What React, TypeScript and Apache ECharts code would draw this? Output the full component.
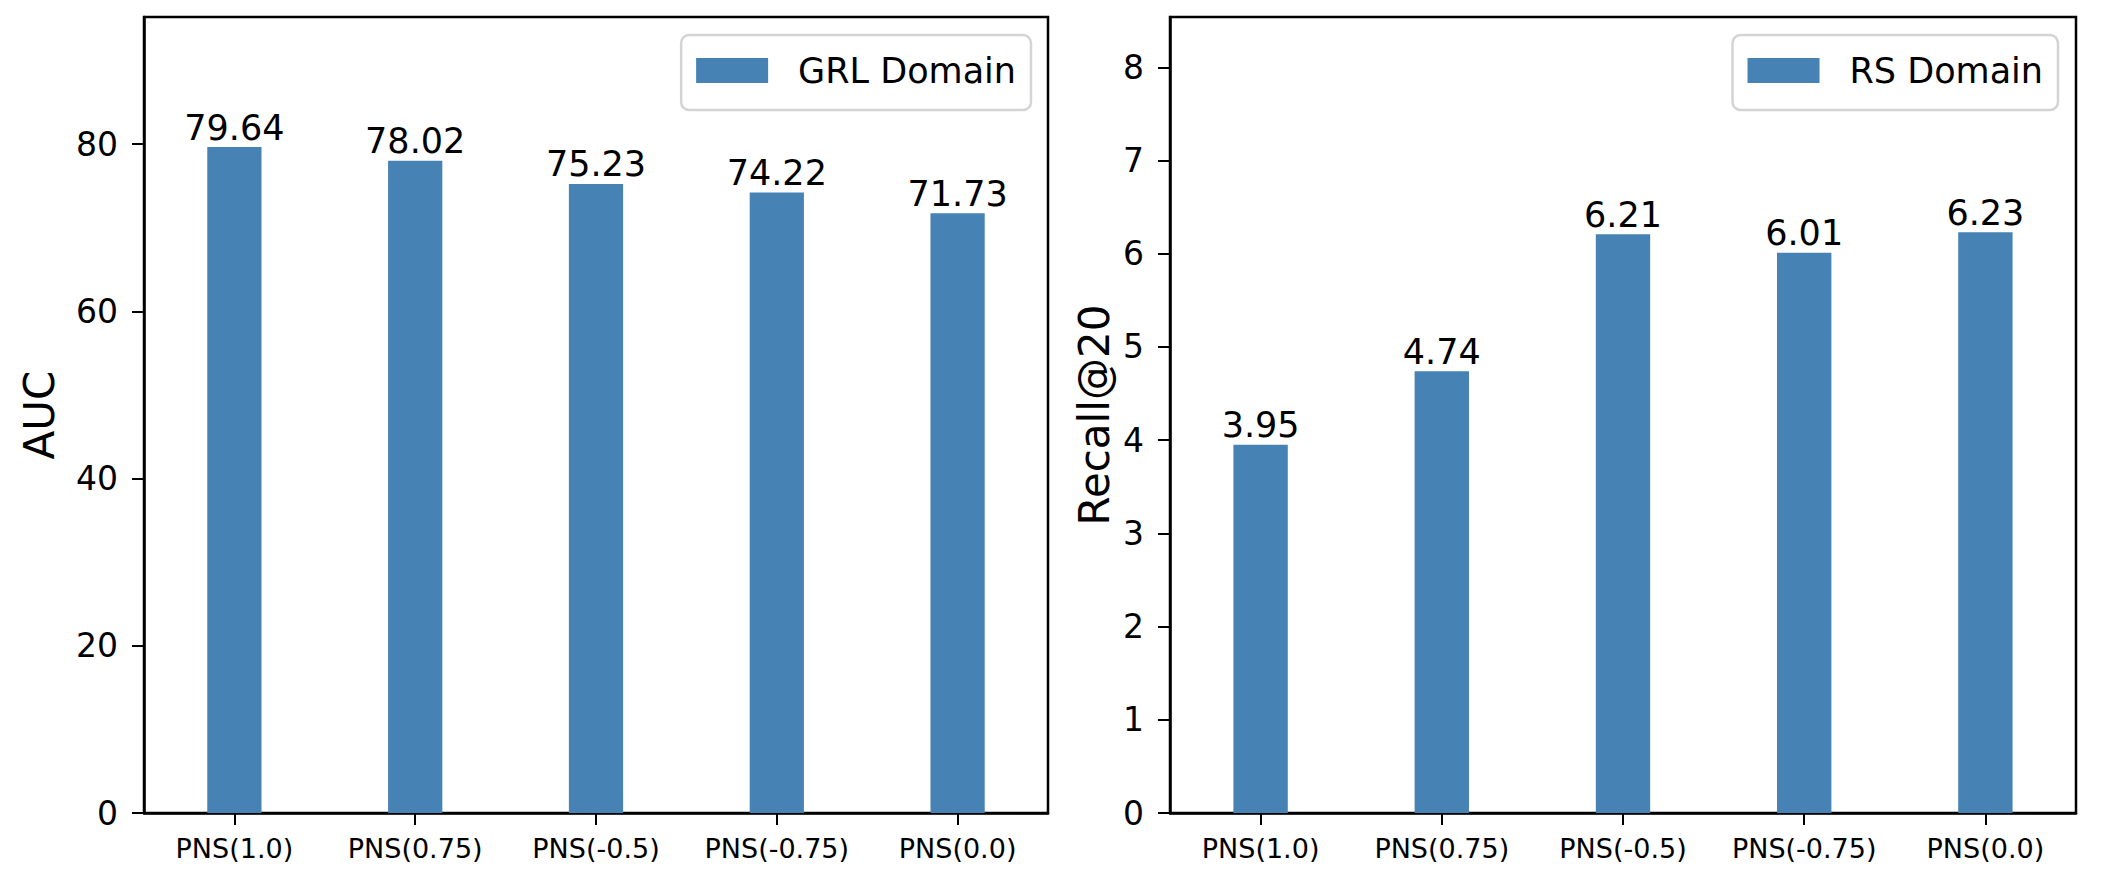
import React, { useEffect, useRef } from "react";
import * as echarts from "echarts";

const categories = ["PNS(1.0)", "PNS(0.75)", "PNS(-0.5)", "PNS(-0.75)", "PNS(0.0)"];
const grlValues = [79.64, 78.02, 75.23, 74.22, 71.73];
const rsValues = [3.95, 4.74, 6.21, 6.01, 6.23];
const grlTicks = [0, 20, 40, 60, 80];
const rsTicks = [0, 1, 2, 3, 4, 5, 6, 7, 8];

const FONT = "DejaVu Sans";
const BAR = "#4682B4";

function makeXAxis(gridIndex: number) {
  return {
    type: "category",
    gridIndex,
    data: categories,
    boundaryGap: true,
    axisLine: { show: true, lineStyle: { color: "#000", width: 2.5 } },
    axisTick: { show: true, alignWithLabel: true, interval: 0, length: 12, lineStyle: { color: "#000", width: 2 } },
    axisLabel: { color: "#000", fontSize: 27, fontFamily: FONT, margin: 22, interval: 0, hideOverlap: false },
    splitLine: { show: false },
  };
}

function makeYAxis(gridIndex: number, max: number, interval: number, ticks: number[], name: string, nameGap: number) {
  return {
    type: "value",
    gridIndex,
    min: 0,
    max,
    interval,
    name,
    nameLocation: "middle",
    nameRotate: 90,
    nameGap,
    nameTextStyle: { color: "#000", fontSize: 42, fontFamily: FONT },
    axisLine: { show: true, lineStyle: { color: "#000", width: 2.5 } },
    axisTick: { show: true, length: 12, lineStyle: { color: "#000", width: 2 }, customValues: ticks },
    axisLabel: { color: "#000", fontSize: 33, fontFamily: FONT, margin: 26, customValues: ticks },
    splitLine: { show: false },
  };
}

function makeLegend(name: string, right: number) {
  return {
    data: [name],
    right,
    top: 35,
    orient: "horizontal",
    padding: [18, 15, 22, 15],
    itemWidth: 72,
    itemHeight: 25,
    backgroundColor: "#fff",
    borderColor: "#d4d4d4",
    borderWidth: 2.5,
    borderRadius: 8,
    icon: "rect",
    textStyle: { color: "#000", fontSize: 35, fontFamily: FONT, lineHeight: 25, padding: [0, 0, 0, 25] },
    selectedMode: false,
  };
}

function makeSeries(name: string, data: number[], idx: number) {
  return {
    type: "bar",
    name,
    xAxisIndex: idx,
    yAxisIndex: idx,
    data,
    barWidth: "30%",
    itemStyle: { color: BAR },
    label: {
      show: true,
      position: "top",
      distance: 2,
      color: "#000",
      fontSize: 35,
      fontFamily: FONT,
      formatter: (p: any) => p.value.toFixed(2),
    },
  };
}

export default function App() {
  const ref = useRef<HTMLDivElement>(null);
  useEffect(() => {
    if (!ref.current) return;
    const chart = echarts.init(ref.current, null, { renderer: "svg" });
    chart.setOption({
      animation: false,
      backgroundColor: "#fff",
      textStyle: { fontFamily: FONT },
      grid: [
        { left: 144, top: 17, width: 904, height: 796, show: true, borderColor: "#000", borderWidth: 2.5, backgroundColor: "transparent" },
        { left: 1170, top: 17, width: 906, height: 796, show: true, borderColor: "#000", borderWidth: 2.5, backgroundColor: "transparent" },
      ],
      legend: [makeLegend("GRL Domain", 2102 - 1031), makeLegend("RS Domain", 2102 - 2058)],
      xAxis: [makeXAxis(0), makeXAxis(1)],
      yAxis: [
        makeYAxis(0, 95.2, 20, grlTicks, "AUC", 84),
        makeYAxis(1, 8.54, 1, rsTicks, "Recall@20", 55),
      ],
      series: [makeSeries("GRL Domain", grlValues, 0), makeSeries("RS Domain", rsValues, 1)],
    });
    return () => chart.dispose();
  }, []);
  return (
    <div
      ref={ref}
      style={{ position: "fixed", left: 0, top: 0, width: 2102, height: 880, background: "#fff" }}
    />
  );
}
